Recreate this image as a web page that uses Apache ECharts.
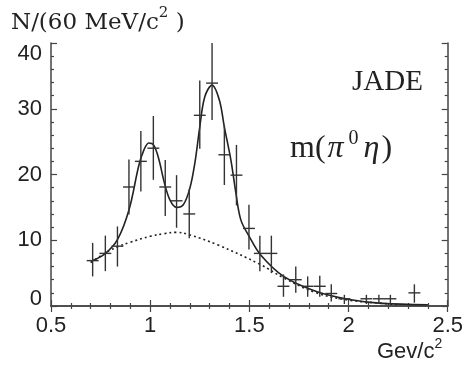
<!DOCTYPE html>
<html><head><meta charset="utf-8">
<script src="https://cdn.jsdelivr.net/npm/echarts@6/dist/echarts.min.js"></script>
<style>html,body{margin:0;padding:0;background:#fff}#c{width:466px;height:368px}</style>
</head><body><div id="c"></div>
<script>
// measured data points (mass in GeV/c^2, counts per 60 MeV/c^2)
const massX = [0.710,0.774,0.835,0.893,0.953,1.016,1.076,1.133,1.197,1.250,1.312,1.374,1.435,1.498,1.553,1.611,1.672,1.734,1.794,1.855,1.913,1.979,2.090,2.153,2.211,2.332];
const counts = [6.9,8.0,9.1,18.1,22.0,24.0,18.1,16.0,14.0,29.0,33.9,23.0,19.9,11.8,8.0,8.0,3.0,4.0,3.0,3.0,1.9,1.1,1.1,1.1,1.1,2.0];
const errHigh = [9.6,10.7,12.1,22.3,26.6,28.9,22.2,19.9,17.8,34.3,40.0,27.5,24.5,15.4,10.7,10.7,4.8,6.0,4.5,4.6,3.3,1.7,1.7,1.7,1.7,3.3];
const errLow  = [4.5,5.3,6.0,13.9,17.4,19.2,13.7,11.9,10.3,23.9,28.3,18.4,15.3,8.6,5.3,5.0,1.4,2.0,1.4,1.4,0.7,0.3,0.3,0.3,0.3,0.5];
const halfBin = 0.03;
// fit curve (solid)
const fitX = [0.70,0.77,0.835,0.893,0.943,0.968,0.993,1.017,1.042,1.072,1.10,1.133,1.167,1.20,1.225,1.25,1.275,1.312,1.349,1.374,1.407,1.432,1.457,1.499,1.556,1.673,1.838,2.004,2.17,2.40];
const fitY = [6.8,7.9,10.1,14.6,21.4,23.7,24.8,24.5,22.5,18.7,16.1,15.0,15.4,17.9,21.7,27.2,31.8,33.6,31.3,27.2,22.2,17.2,13.1,10.6,7.8,4.5,2.2,1.0,0.4,0.2];
// background (dotted)
const bgX = [0.70,0.75,0.80,0.835,0.90,1.00,1.07,1.13,1.20,1.34,1.556,1.672,1.838,2.00,2.17,2.25];
const bgY = [6.6,7.6,8.5,9.0,9.7,10.6,11.0,11.2,10.8,9.3,6.3,4.3,2.0,0.9,0.4,0.2];
// axis ticks
const xTicks = [0.5,1,1.5,2,2.5];
const yTicks = [0,10,20,30,40];

const ink = '#222';
const axisCommon = {
  axisLine:{show:true,lineStyle:{color:'#444',width:1.5}},
  axisTick:{show:true,inside:true,length:6,lineStyle:{color:'#444',width:1.2}},
  minorTick:{show:true,splitNumber:5,length:3,lineStyle:{color:'#444',width:1.2}},
  splitLine:{show:false}
};
const chart = echarts.init(document.getElementById('c'));
chart.setOption({
  animation:false,
  backgroundColor:'#fff',
  grid:{left:51,right:13,top:43,bottom:62},
  xAxis:[
    Object.assign({type:'value',min:xTicks[0],max:xTicks[xTicks.length-1],interval:0.5,position:'bottom',
      axisLabel:{fontSize:22,fontFamily:'Liberation Sans',color:ink,margin:9,
        formatter:v=>String(v)}},axisCommon),
    Object.assign({type:'value',min:xTicks[0],max:xTicks[xTicks.length-1],interval:0.5,position:'top',
      axisLabel:{show:false}},axisCommon)
  ],
  yAxis:[
    Object.assign({type:'value',min:yTicks[0],max:yTicks[yTicks.length-1],interval:10,position:'left',
      axisLabel:{fontSize:22,fontFamily:'Liberation Sans',color:ink,margin:9,
        formatter:v=> v===40?'{d|40}':(v===0?'{u|0}':'{n|'+v+'}'),
        rich:{
          d:{fontSize:22,fontFamily:'Liberation Sans',color:ink,padding:[22,0,0,0]},
          u:{fontSize:22,fontFamily:'Liberation Sans',color:ink,padding:[0,0,14,0]},
          n:{fontSize:22,fontFamily:'Liberation Sans',color:ink}
        }}},axisCommon),
    Object.assign({type:'value',min:yTicks[0],max:yTicks[yTicks.length-1],interval:10,position:'right',
      axisLabel:{show:false}},axisCommon)
  ],
  series:[
    {type:'line',data:bgX.map((x,i)=>[x,bgY[i]]),showSymbol:false,smooth:0.4,
     lineStyle:{color:ink,width:1.6,type:[2,3]},z:2},
    {type:'line',data:fitX.map((x,i)=>[x,fitY[i]]),showSymbol:false,smooth:0.35,
     lineStyle:{color:ink,width:1.6},z:3},
    {type:'custom',z:4,
     data:massX.map((x,i)=>[x,counts[i],errLow[i],errHigh[i]]),
     encode:{x:0,y:[1,2,3]},
     renderItem:function(params,api){
       const x=api.value(0), y=api.value(1), lo=api.value(2), hi=api.value(3);
       const pTop=api.coord([x,hi]), pBot=api.coord([x,lo]);
       const pL=api.coord([x-halfBin,y]), pR=api.coord([x+halfBin,y]);
       const st={stroke:'#333',lineWidth:1.4};
       return {type:'group',children:[
         {type:'line',shape:{x1:pTop[0],y1:pTop[1],x2:pBot[0],y2:pBot[1]},style:st},
         {type:'line',shape:{x1:pL[0],y1:pL[1],x2:pR[0],y2:pR[1]},style:st}
       ]};
     }}
  ],
  graphic:[
    {type:'text',left:11,top:6,style:{text:'{a|N/(60 MeV/c}{s|2}{a| )}',
      rich:{a:{fontSize:23,fontFamily:'DejaVu Serif',fill:ink,lineHeight:34,verticalAlign:'middle'},
            s:{fontSize:15,fontFamily:'DejaVu Serif',fill:ink,lineHeight:17,verticalAlign:'top'}}}},
    {type:'text',left:352,top:68,style:{text:'JADE',font:'29px "Liberation Serif"',fill:ink}},
    {type:'text',left:290,top:129,style:{text:'{a|m(}{i|π}{s|0}{i|η}{a|)}',
      rich:{a:{fontSize:32,fontFamily:'Liberation Serif',fill:ink,lineHeight:40,verticalAlign:'middle'},
            i:{fontSize:32,fontFamily:'Liberation Serif',fontStyle:'italic',fill:ink,lineHeight:40,verticalAlign:'middle',padding:[0,2,0,2]},
            s:{fontSize:20,fontFamily:'Liberation Serif',fill:ink,lineHeight:22,verticalAlign:'top',padding:[0,3,0,3]}}}},
    {type:'text',left:377,top:337,style:{text:'{a|Gev/c}{s|2}',
      rich:{a:{fontSize:22,fontFamily:'Liberation Sans',fill:ink,lineHeight:30,verticalAlign:'middle'},
            s:{fontSize:14,fontFamily:'Liberation Sans',fill:ink,lineHeight:16,verticalAlign:'top'}}}}
  ]
});
</script></body></html>
